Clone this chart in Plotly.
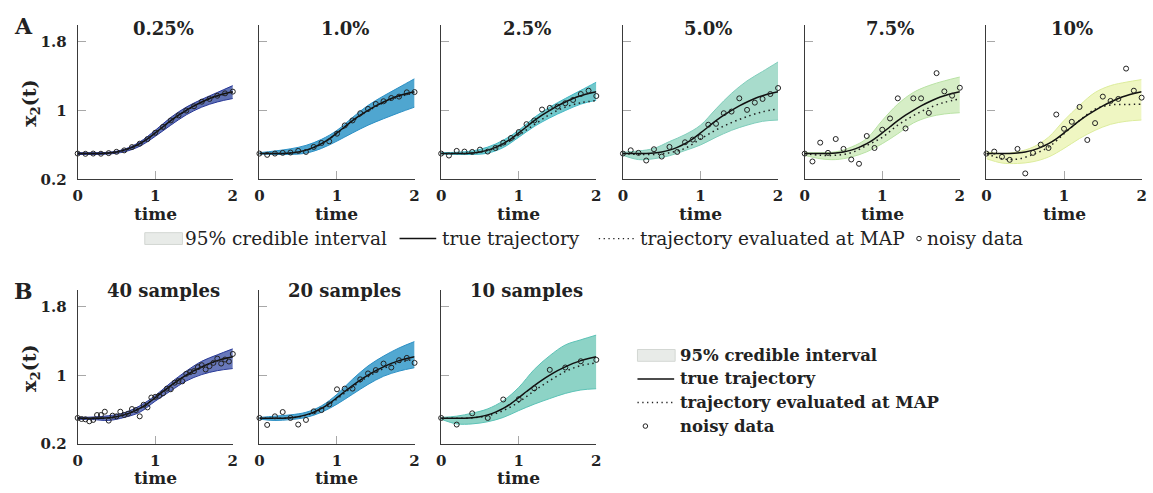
import plotly.graph_objects as go

W, H = 1153, 493

# ---------------- data ----------------
t21 = [0.0, 0.1, 0.2, 0.3, 0.4, 0.5, 0.6, 0.7, 0.8, 0.9, 1.0,
       1.1, 1.2, 1.3, 1.4, 1.5, 1.6, 1.7, 1.8, 1.9, 2.0]
t11 = [0.0, 0.2, 0.4, 0.6, 0.8, 1.0, 1.2, 1.4, 1.6, 1.8, 2.0]
t41 = [0.0, 0.05, 0.1, 0.15, 0.2, 0.25, 0.3, 0.35, 0.4, 0.45, 0.5,
       0.55, 0.6, 0.65, 0.7, 0.75, 0.8, 0.85, 0.9, 0.95, 1.0,
       1.05, 1.1, 1.15, 1.2, 1.25, 1.3, 1.35, 1.4, 1.45, 1.5,
       1.55, 1.6, 1.65, 1.7, 1.75, 1.8, 1.85, 1.9, 1.95, 2.0]

true_traj = [0.50, 0.50, 0.50, 0.502, 0.507, 0.518, 0.54, 0.572, 0.615, 0.672, 0.74,
             0.812, 0.882, 0.946, 1.003, 1.055, 1.10, 1.14, 1.172, 1.198, 1.218]

panel_titles = ["0.25%", "1.0%", "2.5%", "5.0%", "7.5%", "10%",
                "40 samples", "20 samples", "10 samples"]

legend_labels = ["95% credible interval", "true trajectory",
                 "trajectory evaluated at MAP", "noisy data"]

# 95% credible interval, lower / upper (at t11)
ci_low = [
    [0.49, 0.49, 0.495, 0.52, 0.585, 0.70, 0.83, 0.95, 1.04, 1.10, 1.14],
    [0.495, 0.49, 0.49, 0.505, 0.56, 0.645, 0.74, 0.83, 0.905, 0.975, 1.04],
    [0.495, 0.49, 0.49, 0.505, 0.57, 0.69, 0.815, 0.915, 1.0, 1.075, 1.12],
    [0.48, 0.43, 0.44, 0.475, 0.535, 0.60, 0.69, 0.77, 0.83, 0.875, 0.89],
    [0.48, 0.44, 0.43, 0.46, 0.52, 0.615, 0.73, 0.855, 0.925, 0.96, 0.975],
    [0.44, 0.39, 0.385, 0.405, 0.46, 0.56, 0.675, 0.77, 0.84, 0.875, 0.89],
    [0.49, 0.485, 0.475, 0.51, 0.57, 0.70, 0.82, 0.935, 1.01, 1.055, 1.08],
    [0.49, 0.475, 0.485, 0.51, 0.57, 0.665, 0.78, 0.895, 0.99, 1.05, 1.09],
    [0.49, 0.435, 0.435, 0.46, 0.51, 0.59, 0.665, 0.73, 0.79, 0.83, 0.845],
]
ci_high = [
    [0.51, 0.51, 0.515, 0.55, 0.635, 0.77, 0.92, 1.04, 1.13, 1.21, 1.29],
    [0.51, 0.53, 0.555, 0.595, 0.665, 0.77, 0.92, 1.06, 1.17, 1.27, 1.37],
    [0.51, 0.515, 0.53, 0.575, 0.655, 0.77, 0.92, 1.04, 1.14, 1.235, 1.33],
    [0.515, 0.53, 0.56, 0.64, 0.72, 0.83, 1.02, 1.20, 1.345, 1.455, 1.565],
    [0.51, 0.51, 0.52, 0.575, 0.675, 0.885, 1.075, 1.21, 1.29, 1.345, 1.39],
    [0.52, 0.50, 0.52, 0.575, 0.69, 0.885, 1.06, 1.21, 1.29, 1.33, 1.36],
    [0.51, 0.515, 0.53, 0.565, 0.645, 0.765, 0.915, 1.05, 1.165, 1.24, 1.31],
    [0.51, 0.525, 0.54, 0.57, 0.645, 0.78, 0.955, 1.11, 1.225, 1.32, 1.395],
    [0.51, 0.525, 0.56, 0.61, 0.705, 0.86, 1.07, 1.23, 1.355, 1.415, 1.47],
]

# trajectory evaluated at MAP (at t11)
map_traj = [
    [0.50, 0.50, 0.505, 0.54, 0.612, 0.735, 0.878, 1.0, 1.095, 1.168, 1.212],
    [0.50, 0.50, 0.506, 0.538, 0.61, 0.735, 0.875, 0.995, 1.09, 1.16, 1.205],
    [0.50, 0.50, 0.505, 0.535, 0.60, 0.715, 0.835, 0.955, 1.04, 1.09, 1.115],
    [0.50, 0.49, 0.49, 0.51, 0.56, 0.67, 0.775, 0.86, 0.93, 0.985, 1.02],
    [0.50, 0.48, 0.48, 0.51, 0.595, 0.69, 0.83, 0.94, 1.03, 1.095, 1.135],
    [0.50, 0.44, 0.435, 0.49, 0.575, 0.73, 0.885, 1.015, 1.065, 1.07, 1.075],
    [0.50, 0.495, 0.505, 0.54, 0.615, 0.74, 0.88, 1.0, 1.095, 1.17, 1.22],
    [0.50, 0.50, 0.505, 0.535, 0.605, 0.725, 0.865, 0.985, 1.08, 1.15, 1.19],
    [0.50, 0.50, 0.505, 0.53, 0.59, 0.69, 0.82, 0.94, 1.045, 1.115, 1.145],
]

# noisy data
noisy_A = [
    [0.50, 0.497, 0.50, 0.498, 0.505, 0.52, 0.537, 0.575, 0.615, 0.668, 0.742,
     0.81, 0.885, 0.944, 1.0, 1.05, 1.103, 1.135, 1.172, 1.2, 1.22],
    [0.50, 0.485, 0.50, 0.508, 0.512, 0.531, 0.519, 0.577, 0.623, 0.642, 0.731,
     0.827, 0.885, 0.969, 1.019, 1.077, 1.108, 1.146, 1.162, 1.212, 1.215],
    [0.50, 0.477, 0.531, 0.523, 0.519, 0.546, 0.523, 0.565, 0.627, 0.681, 0.75,
     0.842, 0.885, 1.012, 1.031, 1.046, 1.085, 1.123, 1.192, 1.231, 1.169],
    [0.50, 0.538, 0.508, 0.419, 0.55, 0.465, 0.577, 0.519, 0.631, 0.662, 0.692,
     0.835, 0.846, 0.969, 0.988, 1.142, 1.008, 1.092, 1.135, 1.192, 1.262],
    [0.50, 0.408, 0.627, 0.508, 0.669, 0.554, 0.431, 0.381, 0.704, 0.565, 0.777,
     0.908, 1.142, 0.792, 1.142, 1.142, 0.973, 1.435, 1.223, 1.173, 1.265],
    [0.50, 0.523, 0.462, 0.427, 0.554, 0.269, 0.508, 0.604, 0.565, 0.954, 0.788,
     0.869, 1.042, 0.658, 0.854, 1.162, 1.112, 1.135, 1.488, 1.231, 1.15],
]
noisy_40 = [0.504, 0.492, 0.488, 0.465, 0.481, 0.538, 0.538, 0.577, 0.473, 0.531, 0.523,
            0.577, 0.538, 0.554, 0.608, 0.596, 0.523, 0.658, 0.627, 0.742, 0.75,
            0.762, 0.792, 0.846, 0.838, 0.915, 0.935, 0.931, 1.019, 1.038, 1.05,
            1.096, 1.119, 1.069, 1.108, 1.146, 1.196, 1.138, 1.185, 1.162, 1.25]
noisy_20 = [0.504, 0.423, 0.523, 0.573, 0.504, 0.427, 0.481, 0.581, 0.596, 0.662, 0.838,
            0.846, 0.846, 0.954, 1.023, 1.062, 1.138, 1.092, 1.177, 1.204, 1.146]
noisy_10 = [0.504, 0.427, 0.558, 0.504, 0.719, 0.723, 0.85, 1.065, 1.092, 1.165, 1.181]

noisy_t = [t21] * 6 + [t41, t21, t11]
noisy_y = noisy_A + [noisy_40, noisy_20, noisy_10]

fills = ['#5f71b4', '#4fa6d0', '#72c8cb', '#a8dccc', '#d6eec6', '#eff6c2',
         '#6878bb', '#52a8d1', '#8dd3c6']
edges = ['#253494', '#2c8fc4', '#41b6c4', '#7fcdbb', '#b9e2a4', '#dcec9c',
         '#2a3a98', '#2c8fc4', '#5cc2b6']

# ---------------- layout geometry (pixels) ----------------
SERIF = "DejaVu Serif"
INK = '#222222'
DOT = '1.5px,3.5px'
lefts = [73.3 + 183.35 * i for i in range(6)] + [73.3 + 183.35 * i for i in range(3)]
pw = 156.5
rowA = (25.0, 182.7)
rowB = (295.0, 452.3)
rows = [rowA] * 6 + [rowB] * 3


def px_x(p):
    return p / W


def px_y(p):
    return 1 - p / H


fig = go.Figure()
layout = dict(
    width=W, height=H,
    margin=dict(l=0, r=0, t=0, b=0),
    paper_bgcolor='white', plot_bgcolor='white',
    showlegend=False,
)

annotations = []
shapes = []
for k in range(9):
    xa = 'x' if k == 0 else f'x{k+1}'
    ya = 'y' if k == 0 else f'y{k+1}'
    xkey = 'xaxis' if k == 0 else f'xaxis{k+1}'
    ykey = 'yaxis' if k == 0 else f'yaxis{k+1}'
    L = lefts[k]
    top, bot = rows[k]
    layout[xkey] = dict(
        domain=[px_x(L), px_x(L + pw)], anchor=ya, range=[0, 2],
        tickvals=[0, 1, 2], ticktext=['0', '1', '2'],
        ticks='inside', ticklen=8, tickwidth=1.3, tickcolor='#a8a8a8',
        ticklabelstandoff=3,
        showline=True, linecolor='#3a3a3a', linewidth=1.1,
        showgrid=False, zeroline=False,
        tickfont=dict(family=SERIF, size=15, color=INK, weight='bold'),
    )
    layout[ykey] = dict(
        domain=[px_y(bot), px_y(top)], anchor=xa, range=[0.2, 2.0],
        tickvals=[0.2, 1, 1.8], ticktext=['0.2', '1', '1.8'],
        ticks='inside', ticklen=8, tickwidth=1.3, tickcolor='#a8a8a8',
        ticklabelstandoff=7,
        showline=True, linecolor='#3a3a3a', linewidth=1.1,
        showgrid=False, zeroline=False,
        showticklabels=(k in (0, 6)),
        tickfont=dict(family=SERIF, size=15, color=INK, weight='bold'),
    )
    # band
    fig.add_trace(go.Scatter(x=t11, y=ci_low[k], mode='lines', xaxis=xa, yaxis=ya,
                             line=dict(color=edges[k], width=1, shape='spline'),
                             hoverinfo='skip'))
    fig.add_trace(go.Scatter(x=t11, y=ci_high[k], mode='lines', xaxis=xa, yaxis=ya,
                             fill='tonexty', fillcolor=fills[k],
                             line=dict(color=edges[k], width=1, shape='spline'),
                             hoverinfo='skip'))
    fig.add_trace(go.Scatter(x=t11, y=map_traj[k], mode='lines', xaxis=xa, yaxis=ya,
                             line=dict(color=INK, width=1.5, dash=DOT, shape='spline')))
    fig.add_trace(go.Scatter(x=t21, y=true_traj, mode='lines', xaxis=xa, yaxis=ya,
                             line=dict(color='#111', width=1.5, shape='spline')))
    fig.add_trace(go.Scatter(x=noisy_t[k], y=noisy_y[k], mode='markers', xaxis=xa, yaxis=ya,
                             marker=dict(symbol='circle-open', size=5, color=INK,
                                         line=dict(width=1.0, color=INK)),
                             cliponaxis=False))
    ty = 29 if k < 6 else 296
    annotations.append(dict(text=f'<b>{panel_titles[k]}</b>', xref='paper', yref='paper',
                            x=px_x(L + pw / 2 + 8), y=px_y(ty), xanchor='center',
                            yanchor='middle', showarrow=False,
                            font=dict(family=SERIF, size=18, color=INK)))
    # x-axis title "time"
    annotations.append(dict(text='<b>time</b>', xref='paper', yref='paper',
                            x=px_x(L + pw / 2), y=px_y(bot + 35), xanchor='center',
                            yanchor='middle', showarrow=False,
                            font=dict(family=SERIF, size=17, color=INK)))

# y-axis titles and panel letters
for yc in (105, 375):
    annotations.append(dict(text='<b>x<sub>2</sub>(t)</b>', xref='paper', yref='paper',
                            x=px_x(25), y=px_y(yc), xanchor='center', yanchor='middle',
                            textangle=-90, showarrow=False,
                            font=dict(family=SERIF, size=19, color=INK)))
for letter, yc in (('A', 26), ('B', 296)):
    annotations.append(dict(text=f'<b>{letter}</b>', xref='paper', yref='paper',
                            x=px_x(19), y=px_y(yc), xanchor='center', yanchor='middle',
                            showarrow=False, font=dict(family=SERIF, size=22, color=INK)))


# ---------------- legends (keys drawn as shapes, labels as text) ----------------
def legend_keys(key_x, key_y, text_x, text_y, font):
    # credible interval box
    shapes.append(dict(type='rect', xref='paper', yref='paper',
                       x0=px_x(key_x[0]), x1=px_x(key_x[0] + 38),
                       y0=px_y(key_y[0] + 6), y1=px_y(key_y[0] - 6),
                       fillcolor='#e8ebe8', line=dict(color='#d3d7d3', width=1)))
    # true trajectory
    shapes.append(dict(type='line', xref='paper', yref='paper',
                       x0=px_x(key_x[1]), x1=px_x(key_x[1] + 37),
                       y0=px_y(key_y[1]), y1=px_y(key_y[1]),
                       line=dict(color='#111', width=1.5)))
    # MAP (dotted)
    shapes.append(dict(type='line', xref='paper', yref='paper',
                       x0=px_x(key_x[2]), x1=px_x(key_x[2] + 37),
                       y0=px_y(key_y[2]), y1=px_y(key_y[2]),
                       line=dict(color=INK, width=1.3, dash='1.3px,3.5px')))
    # noisy data circle
    shapes.append(dict(type='circle', xref='paper', yref='paper',
                       x0=px_x(key_x[3] - 2.3), x1=px_x(key_x[3] + 2.3),
                       y0=px_y(key_y[3] + 2.3), y1=px_y(key_y[3] - 2.3),
                       line=dict(color=INK, width=1)))
    for lab, tx, ty in zip(legend_labels, text_x, text_y):
        annotations.append(dict(text=lab, xref='paper', yref='paper',
                                x=px_x(tx), y=px_y(ty), xanchor='left', yanchor='middle',
                                showarrow=False, font=font))


# legend A: one horizontal row
legend_keys(key_x=[141, 398, 599, 922], key_y=[243] * 4,
            text_x=[180, 439, 639, 928], text_y=[243] * 4,
            font=dict(family=SERIF, size=18.5, color=INK))
# legend B: vertical list
legend_keys(key_x=[638, 638, 638, 646], key_y=[362, 386, 410, 434],
            text_x=[679] * 4, text_y=[362, 386, 410, 434],
            font=dict(family=SERIF, size=16.5, color=INK, weight='bold'))

layout['annotations'] = annotations
layout['shapes'] = shapes
fig.update_layout(**layout)

fig.write_html("out.html")
